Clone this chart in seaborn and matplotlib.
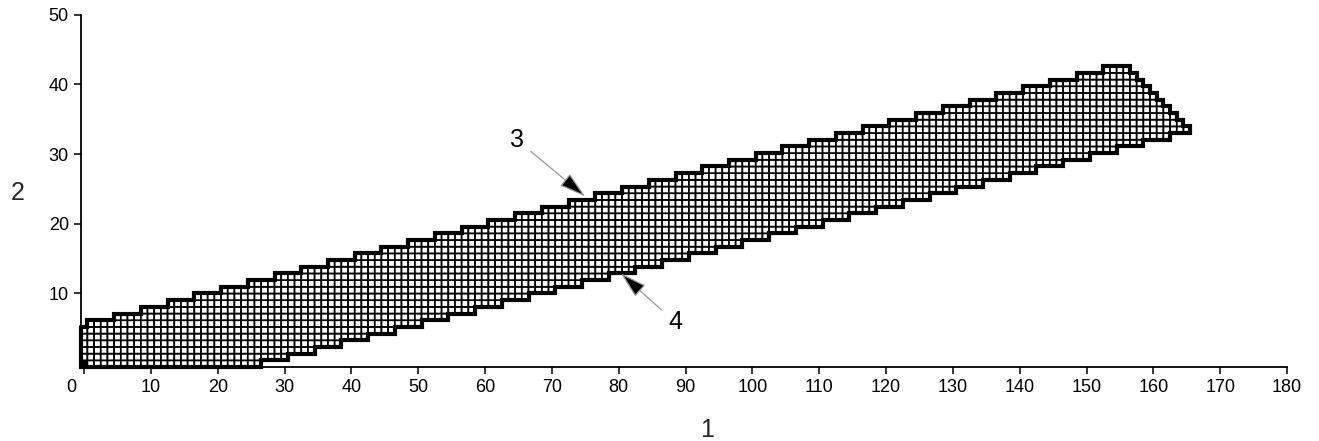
import numpy as np
import matplotlib
matplotlib.use("Agg")
import matplotlib.pyplot as plt
from matplotlib.colors import ListedColormap
from matplotlib.transforms import ScaledTranslation
import seaborn as sns

# ---------------- data ----------------
# Upper boundary: column where a step begins and number of cell rows filled from the bottom
upper_start_col = [0, 1, 5, 9, 13, 17, 21, 25, 29, 33, 37, 41, 45, 49, 53, 57, 61, 65,
                   69, 73, 77, 81, 85, 89, 93, 97, 101, 105, 109, 113, 117, 121, 125,
                   129, 133, 137, 141, 145, 149, 153,
                   157, 158, 159, 160, 161, 162, 163, 164, 165]
upper_rows = [6, 7, 8, 9, 10, 11, 12, 13, 14, 15, 16, 17, 18, 19, 20, 21, 22, 23,
              24, 25, 26, 27, 28, 29, 30, 31, 32, 33, 34, 35, 36, 37, 38,
              39, 40, 41, 42, 43, 44, 45,
              44, 43, 42, 41, 40, 39, 38, 37, 36]
# Lower boundary: column where a step begins and index of the lowest filled row
lower_start_col = [0, 27, 31, 35, 39, 43, 47, 51, 55, 59, 63, 67, 71, 75, 79, 83, 87,
                   91, 95, 99, 103, 107, 111, 115, 119, 123, 127, 131, 135, 139, 143,
                   147, 151, 155, 159, 163]
lower_rows = [0, 1, 2, 3, 4, 5, 6, 7, 8, 9, 10, 11, 12, 13, 14, 15, 16,
              17, 18, 19, 20, 21, 22, 23, 24, 25, 26, 27, 28, 29, 30,
              31, 32, 33, 34, 35]
last_col = 165
filled_cells = [(0, 0)]          # (column, row) drawn solid black

x_ticks = [0, 10, 20, 30, 40, 50, 60, 70, 80, 90, 100, 110, 120, 130, 140, 150, 160, 170, 180]
y_ticks = [10, 20, 30, 40, 50]
x_label = "1"
y_label = "2"
callout_labels = ["3", "4"]
callout_tips = [(75.0, 23.9), (80.3, 12.9)]
callout_text_pos = [(64.8, 32.0), (88.4, 5.9)]

# ---------------- style ----------------
CELL_H = 0.959        # grid cell height in y units (cells are drawn square on screen)
Y_MIN = -0.55
X_MIN = -0.5

sns.set_style("ticks")
plt.rcParams["font.family"] = ["Liberation Sans", "DejaVu Sans"]

fig = plt.figure(figsize=(13.19, 4.41), dpi=100)
ax = fig.add_axes([0.0612, 0.1678, 0.9146, 0.799])

# per-column extents
cols = np.arange(last_col + 1)
top = np.array(upper_rows)[np.searchsorted(upper_start_col, cols, side="right") - 1]
bot = np.array(lower_rows)[np.searchsorted(lower_start_col, cols, side="right") - 1]
nrows = top.max()

x_edges = np.arange(last_col + 2) - 0.5
y_edges = Y_MIN + np.arange(nrows + 1) * CELL_H
rows = np.arange(nrows)[:, None]
Z = np.zeros((nrows, last_col + 1))
for c, r in filled_cells:
    Z[r, c] = 1
mask = (rows < bot[None, :]) | (rows >= top[None, :])
Zm = np.ma.array(Z, mask=mask)
ax.pcolor(x_edges, y_edges, Zm, cmap=ListedColormap(["white", "black"]),
          vmin=0, vmax=1, edgecolors="black", linewidths=1.25)

# outline of the region
ox, oy = [], []
for c in cols:
    ox += [c - 0.5, c + 0.5]
    oy += [y_edges[top[c]]] * 2
for c in cols[::-1]:
    ox += [c + 0.5, c - 0.5]
    oy += [y_edges[bot[c]]] * 2
ox.append(ox[0]); oy.append(oy[0])
sns.lineplot(x=ox, y=oy, sort=False, estimator=None, color="black",
             linewidth=3.0, ax=ax, clip_on=False, solid_joinstyle="miter")

# callouts
for lab, tip, tp in zip(callout_labels, callout_tips, callout_text_pos):
    ax.annotate(lab, xy=tip, xytext=tp, fontsize=18, ha="center", va="center",
                color="black",
                arrowprops=dict(arrowstyle="-|>,head_length=1.4,head_width=0.4",
                                fc="black", ec="#9a9a9a", lw=0.9,
                                mutation_scale=12, shrinkA=3, shrinkB=0))

ax.set_xlim(X_MIN, 180)
ax.set_ylim(Y_MIN, 50)
ax.set_xticks(x_ticks)
ax.set_yticks(y_ticks)
ax.tick_params(axis="both", direction="out", length=5, width=1.1, labelsize=13,
               color="black", labelcolor="black")
for s in ["top", "right"]:
    ax.spines[s].set_visible(False)
for s in ["left", "bottom"]:
    ax.spines[s].set_linewidth(1.3)
    ax.spines[s].set_color("black")
    ax.spines[s].set_zorder(1)

ax.set_xlabel(x_label, fontsize=18, va="center", ha="center")
ax.set_ylabel(y_label, fontsize=18, rotation=0, va="center", ha="center")
ax.xaxis.set_label_coords(0.519, -0.179)
ax.yaxis.set_label_coords(-0.052, 0.494)

# "0" tick label sits left of its tick in the reference
fig.canvas.draw()
lbl0 = ax.get_xticklabels()[0]
lbl0.set_transform(lbl0.get_transform() + ScaledTranslation(-0.13, 0, fig.dpi_scale_trans))

fig.savefig("out.png", dpi=100)
